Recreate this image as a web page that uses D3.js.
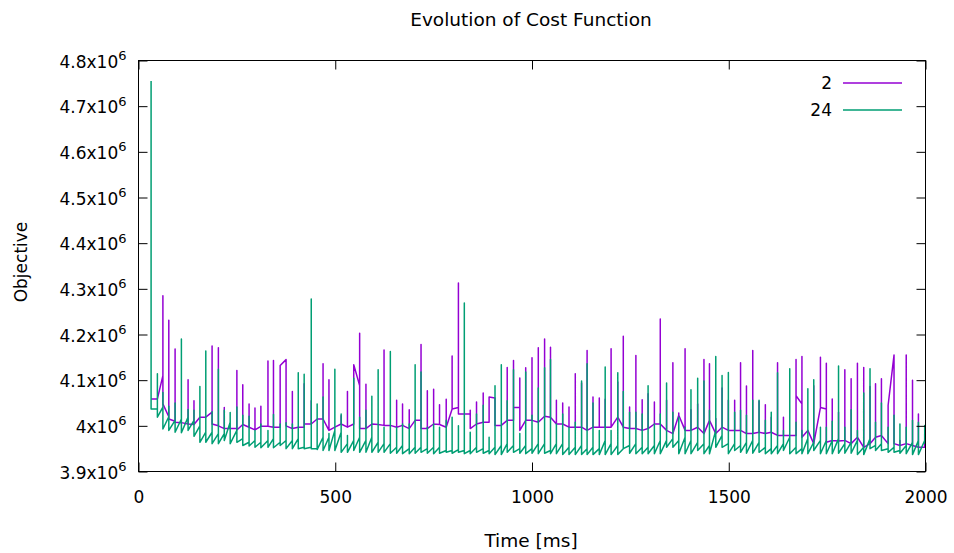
<!DOCTYPE html>
<html><head><meta charset="utf-8">
<script src="https://cdn.jsdelivr.net/npm/d3@7"></script>
<style>
body{margin:0;background:#fff;}
text{font-family:"DejaVu Sans",sans-serif;fill:#000;}
</style></head>
<body><svg id="c" width="954" height="553"></svg>
<script>
// event times (ms)
const times = [32,48,62,77,93,109,126,141,156,171,187,203,218,233,250,265,281,296,311,329,343,360,375,391,406,
421,439,454,469,484,499,515,531,547,562,578,593,609,624,640,656,671,688,703,718,734,750,765,782,797,813,
828,843,859,876,891,906,922,937,953,969,984,1000,1016,1032,1047,1062,1078,1094,1110,1126,1140,1155,1171,1186,1201,1218,
1232,1248,1264,1280,1295,1311,1326,1342,1358,1373,1389,1404,1421,1437,1451,1467,1483,1499,1515,1530,1545,1561,1577,1593,1608,1624,
1639,1655,1671,1686,1701,1716,1733,1748,1763,1779,1795,1811,1827,1843,1859,1873,1888,1905,1920,1935,1951,1967,1982,1998];

// series "2" (values in 10^6)
const s2Base = [4.059,4.059,4.110,4.020,4.010,4.007,4.004,4.003,4.019,4.019,4.030,4.000,3.994,3.994,3.994,4.003,3.997,3.991,3.999,3.999,3.997,3.997,4.145,3.994,3.997,
3.997,4.004,4.015,4.015,3.990,3.997,4.004,3.997,4.004,4.088,3.994,4.004,4.003,4.001,4.001,3.997,4.001,3.994,4.012,4.012,3.994,4.004,4.003,3.997,4.037,4.040,
4.026,4.026,4.004,4.008,4.008,4.061,4.001,4.012,4.012,4.040,4.012,4.012,4.008,4.021,4.019,4.004,4.004,3.997,3.997,3.997,3.990,3.997,3.997,3.997,3.997,4.019,
3.997,3.994,3.994,3.990,3.994,4.004,4.004,3.990,3.983,4.023,3.990,3.990,3.997,3.983,4.012,3.983,3.997,3.990,3.990,3.990,3.983,3.983,3.986,3.983,3.986,3.979,
3.979,3.979,3.979,4.048,3.990,3.961,4.040,4.037,3.968,3.967,3.968,3.961,3.975,3.953,3.961,3.975,3.979,3.961,4.155,3.957,3.961,3.957,3.953,3.953];
const s2Hi = [4.059,4.059,4.285,4.231,4.168,4.007,4.101,4.055,4.019,4.019,4.175,4.171,4.040,3.994,4.121,4.090,4.048,4.039,4.043,4.142,4.143,4.132,4.145,4.075,3.997,
4.092,4.055,4.015,4.136,4.101,3.997,4.022,4.075,4.134,4.203,4.091,4.004,4.003,4.166,4.001,4.056,4.048,4.035,4.012,4.178,4.077,4.080,4.046,4.058,4.153,4.313,
4.026,4.034,4.052,4.072,4.063,4.061,4.001,4.128,4.143,4.105,4.127,4.149,4.171,4.190,4.172,4.056,4.050,4.041,4.114,4.094,4.165,4.063,4.061,4.058,4.169,4.096,
4.196,4.041,4.154,4.057,4.070,4.052,4.234,4.056,4.138,4.028,4.169,4.035,4.048,4.145,4.136,4.016,4.083,4.056,4.056,4.138,4.087,4.165,4.054,4.046,4.019,4.138,
4.019,3.979,4.145,4.152,3.990,4.088,4.150,4.137,4.059,4.030,4.123,4.103,4.137,4.128,4.086,4.092,4.103,4.045,4.155,3.968,4.155,4.100,4.026,3.984];
const s2Lo = [4.059,4.059,4.048,4.015,4.008,4.007,4.004,4.003,4.019,4.019,4.004,4.000,3.994,3.994,3.991,4.003,3.997,3.991,3.999,3.999,3.997,4.132,4.000,3.994,3.997,
4.004,4.004,4.015,4.015,3.990,3.997,4.004,3.997,4.134,3.994,3.994,4.004,4.003,4.001,4.001,3.997,4.001,3.994,4.012,3.994,3.994,4.004,4.003,3.997,4.037,4.026,
4.026,3.994,4.004,4.008,4.063,4.001,4.001,4.012,4.040,3.990,4.012,4.012,4.008,4.021,4.019,4.004,4.004,3.997,3.997,3.997,3.990,3.997,3.997,3.997,3.997,4.019,
3.997,3.994,3.994,3.990,3.994,4.004,4.004,3.990,3.983,4.023,3.990,3.990,3.997,3.983,4.012,3.983,3.997,3.990,3.990,3.990,3.983,3.983,3.986,3.983,3.986,3.979,
3.979,3.979,4.066,3.975,3.990,3.961,4.040,3.964,3.968,3.967,3.968,3.961,3.975,3.953,3.961,3.975,3.979,4.045,3.961,3.957,3.961,3.957,3.953,3.953];

// series "24" (values in 10^6)
const s24Base = [4.755,4.037,4.041,4.020,4.012,4.015,4.019,4.012,4.000,3.986,3.986,3.983,3.983,4.008,3.990,3.972,3.964,3.968,3.964,3.968,3.972,3.964,3.968,3.968,3.972,
3.953,3.953,3.950,3.975,3.975,3.990,3.986,3.961,3.968,3.975,3.968,3.975,3.964,3.961,3.961,3.953,3.957,3.950,3.953,3.953,3.950,3.953,3.953,3.946,3.946,3.948,
3.946,3.946,3.953,3.950,3.946,3.953,3.957,3.961,3.957,3.950,3.957,3.950,3.961,3.961,3.946,3.961,3.961,3.953,3.953,3.957,3.950,3.953,3.950,3.968,3.961,3.957,
3.950,3.957,3.961,3.953,3.953,3.957,3.968,3.968,3.972,3.968,3.975,3.968,3.964,3.961,3.957,3.990,3.979,3.961,3.961,3.957,3.964,3.968,3.964,3.953,3.950,3.957,
3.961,3.975,3.953,3.950,3.972,3.964,3.968,3.968,3.968,3.972,3.961,3.964,3.968,3.953,3.972,3.957,3.961,3.950,3.953,3.946,3.957,3.964,3.968,3.968];
const s24Hi = [4.755,4.114,4.073,4.043,4.050,4.190,4.036,4.034,4.086,4.164,4.031,4.124,4.034,4.029,4.041,4.023,4.021,3.990,4.004,3.990,4.025,4.004,4.007,4.004,4.116,
4.113,4.278,4.048,4.063,3.983,4.124,4.026,3.979,4.104,4.019,4.034,4.065,4.123,3.997,4.163,3.997,4.004,4.004,4.134,4.118,3.997,4.004,3.997,4.012,4.019,4.000,
4.269,3.986,4.026,4.045,3.975,4.088,4.134,4.055,4.123,3.983,4.118,4.023,4.083,4.127,4.145,4.004,4.026,3.997,4.008,4.098,4.136,4.050,3.990,4.129,3.990,4.116,
4.075,4.030,4.030,4.026,4.088,4.004,4.026,4.094,4.030,4.019,3.997,4.079,4.104,4.098,4.034,4.152,4.110,4.117,4.030,4.034,4.023,4.056,4.056,4.012,4.030,4.116,
3.990,4.125,4.008,3.990,4.081,4.101,3.997,3.997,4.010,4.131,3.997,4.035,3.990,4.072,4.125,4.008,4.050,3.997,4.023,4.004,3.997,4.012,4.008,4.001];
const s24Lo = [4.037,4.019,3.993,3.990,3.986,3.985,3.990,3.977,3.964,3.964,3.961,3.961,3.968,3.961,3.964,3.957,3.956,3.953,3.952,3.953,3.952,3.957,3.950,3.950,3.950,
3.950,3.950,3.948,3.946,3.946,3.946,3.942,3.942,3.946,3.942,3.942,3.942,3.942,3.942,3.940,3.940,3.939,3.939,3.940,3.942,3.940,3.939,3.940,3.942,3.940,3.942,
3.939,3.939,3.942,3.940,3.939,3.937,3.937,3.942,3.942,3.940,3.939,3.940,3.939,3.940,3.939,3.939,3.937,3.937,3.937,3.937,3.937,3.937,3.937,3.937,3.937,3.937,
3.950,3.940,3.939,3.939,3.939,3.939,3.939,3.953,3.953,3.939,3.939,3.939,3.946,3.939,3.939,3.953,3.953,3.939,3.946,3.942,3.940,3.940,3.942,3.939,3.939,3.939,
3.946,3.939,3.939,3.939,3.939,3.946,3.939,3.939,3.939,3.940,3.940,3.940,3.937,3.937,3.950,3.946,3.946,3.942,3.942,3.940,3.939,3.937,3.937,3.961];

const seriesNames = ["2","24"];
const seriesColors = ["#9400d3","#009e73"];
const xTicks = [0,500,1000,1500,2000];
const yTicks = [3.9,4.0,4.1,4.2,4.3,4.4,4.5,4.6,4.7,4.8];
const yTickLabels = ["3.9","4","4.1","4.2","4.3","4.4","4.5","4.6","4.7","4.8"];

const svg = d3.select("#c");
const L=138.5, R=925.5, T=60.5, B=471.5;
const x = d3.scaleLinear().domain([0,2000]).range([L,R]);
const y = d3.scaleLinear().domain([3.9e6,4.8e6]).range([B,T]);

function buildPts(base,hi,lo){
  const pts=[];
  times.forEach((t,i)=>{
    pts.push([t,base[i]*1e6]);
    pts.push([t,hi[i]*1e6]);
    pts.push([t,lo[i]*1e6]);
  });
  return pts;
}
const line = d3.line().x(d=>x(d[0])).y(d=>y(d[1]));
svg.append("clipPath").attr("id","pc").append("rect")
  .attr("x",L).attr("y",T).attr("width",R-L).attr("height",B-T);

const g = svg.append("g").attr("clip-path","url(#pc)");
g.append("path").datum(buildPts(s2Base,s2Hi,s2Lo))
  .attr("d",line).attr("fill","none").attr("stroke",seriesColors[0]).attr("stroke-width",1.5).attr("stroke-linejoin","round");
g.append("path").datum(buildPts(s24Base,s24Hi,s24Lo))
  .attr("d",line).attr("fill","none").attr("stroke",seriesColors[1]).attr("stroke-width",1.5).attr("stroke-linejoin","round");

// axes (inward ticks, mirrored)
const axBottom = svg.append("g").attr("transform",`translate(0,${B})`)
  .call(d3.axisBottom(x).tickValues(xTicks).tickSize(-9).tickPadding(19).tickFormat(d3.format("d")));
const axTop = svg.append("g").attr("transform",`translate(0,${T})`)
  .call(d3.axisTop(x).tickValues(xTicks).tickSize(-9).tickFormat(""));
const axLeft = svg.append("g").attr("transform",`translate(${L},0)`)
  .call(d3.axisLeft(y).tickValues(yTicks.map(v=>v*1e6)).tickSize(-9).tickPadding(12).tickFormat(""));
const axRight = svg.append("g").attr("transform",`translate(${R},0)`)
  .call(d3.axisRight(y).tickValues(yTicks.map(v=>v*1e6)).tickSize(-9).tickFormat(""));
[axBottom,axTop,axLeft,axRight].forEach(a=>{
  a.select(".domain").remove();
  a.selectAll(".tick line").attr("stroke","#000");
});
axBottom.selectAll(".tick text").attr("font-size",17).attr("font-family",null).attr("fill","#000");

// y tick labels with superscript
axLeft.selectAll(".tick text").each(function(d,i){
  const t=d3.select(this).attr("font-size",17).attr("font-family",null).attr("fill","#000").attr("dy","0.4em");
  t.text(null);
  t.append("tspan").text(yTickLabels[i]+"x10");
  t.append("tspan").attr("font-size",13).attr("dy","-0.6em").text("6");
});

svg.append("rect").attr("x",L).attr("y",T).attr("width",R-L).attr("height",B-T)
  .attr("fill","none").attr("stroke","#000").attr("stroke-width",1);

// titles
svg.append("text").attr("x",531).attr("y",26).attr("text-anchor","middle").attr("font-size",18.5).text("Evolution of Cost Function");
svg.append("text").attr("x",531).attr("y",547).attr("text-anchor","middle").attr("font-size",18.5).text("Time [ms]");
svg.append("text").attr("transform","translate(27,262) rotate(-90)").attr("text-anchor","middle").attr("font-size",17).text("Objective");

// legend
seriesNames.forEach((n,i)=>{
  const ly = 83 + i*27;
  svg.append("text").attr("x",832).attr("y",ly).attr("dy","0.36em").attr("text-anchor","end").attr("font-size",17).text(n);
  svg.append("line").attr("x1",843).attr("x2",902).attr("y1",ly).attr("y2",ly)
    .attr("stroke",seriesColors[i]).attr("stroke-width",1.5);
});
</script></body></html>
